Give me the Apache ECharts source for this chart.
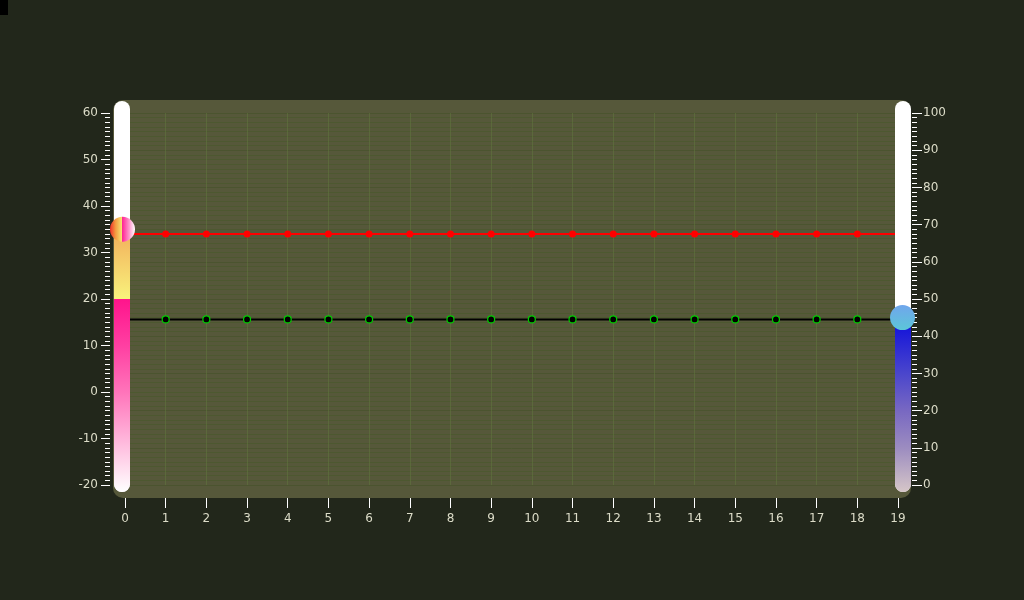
<!DOCTYPE html>
<html>
<head>
<meta charset="utf-8">
<script src="https://cdn.jsdelivr.net/npm/echarts@6/dist/echarts.min.js"></script>
<style>
html,body{margin:0;padding:0;background:#22271b;}
#main{width:1024px;height:600px;}
</style>
</head>
<body>
<div id="main"></div>
<script>
// ---- data ----
const categories = ['0','1','2','3','4','5','6','7','8','9','10','11','12','13','14','15','16','17','18','19'];
const leftAxisMin = -20, leftAxisMax = 60;
const rightAxisMin = 0, rightAxisMax = 100;
const leftThermoValue = [[0, 35]];
const rightThermoValue = [[19, 45]];
const redLineValues = [34,34,34,34,34,34,34,34,34,34,34,34,34,34,34,34,34,34,34,34];
const blackLineValues = [44.5,44.5,44.5,44.5,44.5,44.5,44.5,44.5,44.5,44.5,44.5,44.5,44.5,44.5,44.5,44.5,44.5,44.5,44.5,44.5];

// ---- styles ----
const labelColor = '#dcdcc8';
const fontFamily = 'DejaVu Sans';
const leftStops = [[35,'#f2ad5a'],[20.05,'#f8f27c'],[20,'#ff148c'],[10,'#ff3fa2'],[0,'#ff74ba'],[-10,'#ffb4da'],[-20,'#ffffff']];
const rightStops = [[45,'#0c0cdc'],[30,'#4a46cc'],[20,'#7868c2'],[10,'#9c8cc0'],[0,'#d6c6c8']];

const chart = echarts.init(document.getElementById('main'));

function thermo(cfg) {
  return function (params, api) {
    const idx = api.value(0), val = api.value(1);
    const top = api.coord([idx, cfg.max]);
    const bot = api.coord([idx, cfg.min]);
    const v = api.coord([idx, val]);
    const cx = top[0] + cfg.shift;
    const w = 16;
    const y0 = top[1] - 12, y1 = bot[1] + 7;
    const fh = y1 - v[1];
    const stops = cfg.stops.map(function (s) {
      let o = (api.coord([idx, s[0]])[1] - v[1]) / fh;
      o = Math.max(0, Math.min(1, o));
      return { offset: o, color: s[1] };
    });
    stops[stops.length - 1].offset = 1;
    return {
      type: 'group',
      children: [
        { type: 'rect', shape: { x: cx - w / 2, y: y0, width: w, height: y1 - y0, r: w / 2 },
          style: { fill: '#ffffff' } },
        { type: 'rect', shape: { x: cx - w / 2, y: v[1], width: w, height: fh, r: [0, 0, w / 2, w / 2] },
          style: { fill: new echarts.graphic.LinearGradient(0, 0, 0, 1, stops) } },
        { type: 'circle', shape: { cx: cx + cfg.bulbShift, cy: v[1], r: 12.5 },
          style: { fill: cfg.bulbFill } }
      ]
    };
  };
}

function lineData(vals) {
  return vals.map(function (v, i) {
    return (i === 0 || i === vals.length - 1) ? { value: v, symbol: 'none' } : v;
  });
}

const axisLabelStyle = { color: labelColor, fontFamily: fontFamily, fontSize: 12 };

const option = {
  backgroundColor: '#22271b',
  animation: false,
  graphic: [
    { type: 'rect', left: 113, top: 100, shape: { width: 798, height: 398, r: 10 },
      style: { fill: '#56583a' }, z: -10 },
    { type: 'rect', left: 0, top: 0, shape: { width: 8, height: 15 }, style: { fill: '#000000' }, z: 100 }
  ],
  grid: { left: 125, right: 126, top: 113, bottom: 115, show: false },
  xAxis: {
    type: 'category',
    data: categories,
    boundaryGap: false,
    offset: 13,
    axisLine: { show: false, onZero: false },
    axisTick: { show: true, length: 10, lineStyle: { color: '#ffffff' } },
    axisLabel: Object.assign({ margin: 15, interval: 0 }, axisLabelStyle),
    splitLine: { show: true, lineStyle: { color: 'rgba(100,125,65,0.45)', width: 1 } }
  },
  yAxis: [
    {
      type: 'value', min: leftAxisMin, max: leftAxisMax, interval: 10, position: 'left', offset: 15,
      axisLine: { show: false },
      axisTick: { show: true, length: 9, lineStyle: { color: '#ffffff' } },
      minorTick: { show: true, splitNumber: 10, length: 5, lineStyle: { color: '#ffffff' } },
      axisLabel: Object.assign({ margin: 12 }, axisLabelStyle),
      splitLine: { show: true, lineStyle: { color: 'rgba(95,125,55,0.9)' } },
      minorSplitLine: { show: true, lineStyle: { color: 'rgba(95,125,55,0.85)' } }
    },
    {
      type: 'value', min: rightAxisMin, max: rightAxisMax, interval: 10, position: 'right', offset: 14,
      axisLine: { show: false },
      axisTick: { show: true, length: 10, lineStyle: { color: '#ffffff' } },
      minorTick: { show: true, splitNumber: 8, length: 5, lineStyle: { color: '#ffffff' } },
      axisLabel: Object.assign({ margin: 11 }, axisLabelStyle),
      splitLine: { show: true, lineStyle: { color: 'rgba(70,75,45,0.8)' } },
      minorSplitLine: { show: true, lineStyle: { color: 'rgba(70,75,45,0.7)' } }
    }
  ],
  series: [
    {
      type: 'line', yAxisIndex: 0, z: 3,
      data: lineData(redLineValues),
      symbol: 'circle', symbolSize: 7,
      lineStyle: { color: '#ff0000', width: 2 },
      itemStyle: { color: '#ff0000' }
    },
    {
      type: 'line', yAxisIndex: 1, z: 3,
      data: lineData(blackLineValues),
      symbol: 'circle', symbolSize: 7,
      lineStyle: { color: '#000000', width: 2 },
      itemStyle: { color: '#000000', borderColor: '#00cc00', borderWidth: 1.2 }
    },
    {
      type: 'custom', yAxisIndex: 0, z: 5, clip: false,
      data: leftThermoValue,
      renderItem: thermo({ min: leftAxisMin, max: leftAxisMax, shift: -3, bulbShift: 0.5, stops: leftStops,
        bulbFill: new echarts.graphic.LinearGradient(0, 0, 1, 0, [
          { offset: 0, color: '#f0302a' }, { offset: 0.22, color: '#f59a40' }, { offset: 0.46, color: '#f6e070' },
          { offset: 0.5, color: '#ff2896' }, { offset: 0.78, color: '#ff9ccf' }, { offset: 1, color: '#ffffff' }
        ]) })
    },
    {
      type: 'custom', yAxisIndex: 1, z: 5, clip: false,
      data: rightThermoValue,
      renderItem: thermo({ min: rightAxisMin, max: rightAxisMax, shift: 5, bulbShift: -0.5, stops: rightStops,
        bulbFill: new echarts.graphic.LinearGradient(0, 0, 0, 1, [
          { offset: 0, color: '#70a6ec' }, { offset: 1, color: '#5cc6d8' }
        ]) })
    }
  ]
};
chart.setOption(option);
</script>
</body>
</html>
